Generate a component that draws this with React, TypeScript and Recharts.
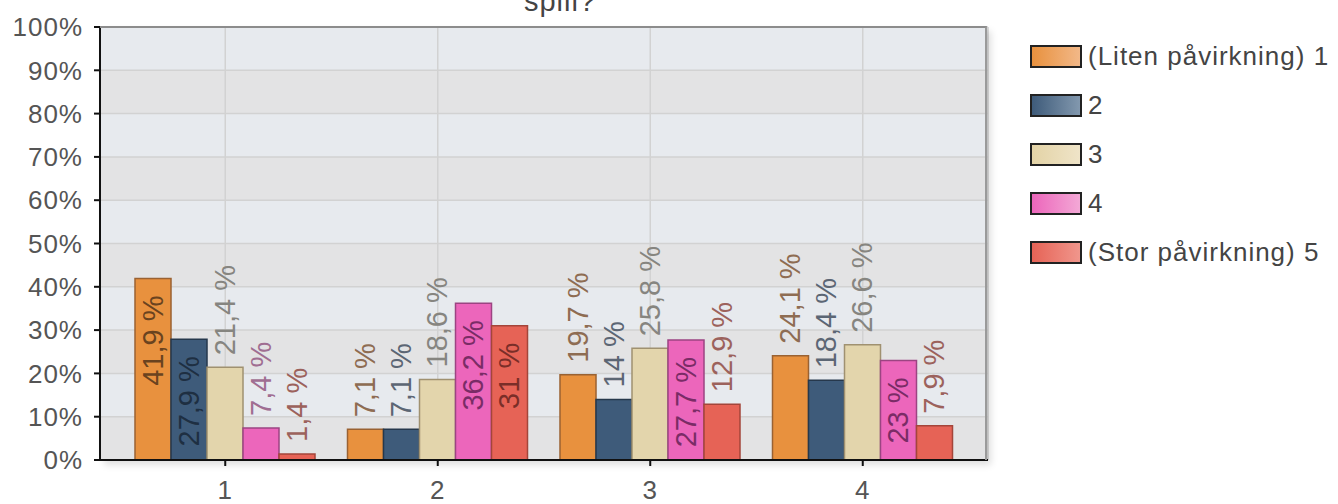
import { BarChart, Bar, XAxis, YAxis, CartesianGrid, LabelList } from "recharts";

const CATEGORIES = ["1", "2", "3", "4"];
const SERIES_NAMES = ["(Liten påvirkning) 1", "2", "3", "4", "(Stor påvirkning) 5"];
const LITEN_1 = [41.9, 7.1, 19.7, 24.1];
const VAL_2 = [27.9, 7.1, 14, 18.4];
const VAL_3 = [21.4, 18.6, 25.8, 26.6];
const VAL_4 = [7.4, 36.2, 27.7, 23];
const STOR_5 = [1.4, 31, 12.9, 7.9];
const Y_TICKS = [0, 10, 20, 30, 40, 50, 60, 70, 80, 90, 100];
const TITLE = "spill?";

const SERIES = [LITEN_1, VAL_2, VAL_3, VAL_4, STOR_5];

const FILLS = ["#e8913e", "#3e5b7a", "#e3d5ac", "#ec66bb", "#e66356"];
const STROKES = ["#9a6232", "#26384c", "#a09170", "#9c4482", "#a4453a"];
const LEGEND_FROM = ["#e8913e", "#3e5b7a", "#e3d3a6", "#ec66bb", "#e66356"];
const LEGEND_TO = ["#f2b888", "#8298ae", "#efe4c8", "#f3a8d6", "#f0968c"];
const LABEL_OUT = ["#8e6c52", "#5c6674", "#868580", "#a06e92", "#9c625c"];
const LABEL_IN = ["#6a431f", "#1e2f42", "#6a6048", "#7a2c66", "#7a2e28"];

// labels drawn inside the bar, "series-category"
const INSIDE = new Set(["0-0", "1-0", "3-1", "4-1", "3-2", "3-3"]);

const FONT = '"Liberation Sans", Arial, sans-serif';

const data = CATEGORIES.map((name, i) => {
  const row: any = { name };
  SERIES.forEach((s, si) => {
    row[`s${si}`] = s[i];
  });
  return row;
});

const fmt = (v: number) => `${String(v).replace(".", ",")} %`;

const makeLabel = (si: number) => (props: any) => {
  const x = Number(props.x);
  const y = Number(props.y);
  const width = Number(props.width);
  const inside = INSIDE.has(`${si}-${props.index}`);
  const cx = x + width / 2;
  const ty = inside ? y + 17 : y - 12;
  return (
    <text
      x={cx}
      y={ty}
      transform={`rotate(-90 ${cx} ${ty})`}
      textAnchor={inside ? "end" : "start"}
      dominantBaseline="central"
      fill={inside ? LABEL_IN[si] : LABEL_OUT[si]}
      fontSize={29}
      fontFamily={FONT}
    >
      {fmt(props.value)}
    </text>
  );
};

const tickStyle = { fontSize: 26, fill: "#555", fontFamily: FONT, letterSpacing: 1 };

export default function App() {
  return (
    <div style={{ position: "absolute", left: 0, top: 0, width: 1338, height: 504, background: "#fff", overflow: "hidden", fontFamily: FONT }}>
      <div style={{ position: "absolute", left: 460, width: 200, top: -13, textAlign: "center", fontSize: 29, lineHeight: "28px", color: "#444", letterSpacing: 1 }}>
        {TITLE}
      </div>
      <div style={{ position: "absolute", left: 0, top: 0 }}>
        <BarChart width={1338} height={504} data={data} margin={{ top: 27, right: 350, bottom: 0, left: 0 }} barGap={0} barCategoryGap={16}>
          <CartesianGrid stroke="#d2d2d2" strokeWidth={1.5} horizontalFill={["#e7eaee", "#e3e3e4"]} fillOpacity={1} />
          <XAxis
            dataKey="name"
            height={44}
            padding={{ left: 19, right: 19 }}
            tickSize={6}
            tickMargin={15}
            tick={tickStyle}
            axisLine={{ stroke: "#111", strokeWidth: 2 }}
            tickLine={{ stroke: "#111", strokeWidth: 2 }}
          />
          <YAxis
            width={100}
            domain={[0, 100]}
            ticks={Y_TICKS}
            interval={0}
            tickFormatter={(v) => `${v}%`}
            tickSize={6}
            tickMargin={11}
            tick={tickStyle}
            axisLine={{ stroke: "#111", strokeWidth: 2 }}
            tickLine={{ stroke: "#111", strokeWidth: 2 }}
          />
          {SERIES.map((_, si) => (
            <Bar
              key={si}
              dataKey={`s${si}`}
              name={SERIES_NAMES[si]}
              fill={FILLS[si]}
              stroke={STROKES[si]}
              strokeWidth={1.5}
              isAnimationActive={false}
            >
              <LabelList dataKey={`s${si}`} content={makeLabel(si)} />
            </Bar>
          ))}
        </BarChart>
      </div>
      <div
        style={{
          position: "absolute",
          left: 100,
          top: 26,
          width: 887,
          height: 434,
          borderTop: "2px solid #8c8c8c",
          borderRight: "2px solid #9a9a9a",
          boxShadow: "4px 5px 7px rgba(0,0,0,0.13)",
          boxSizing: "border-box",
          pointerEvents: "none",
        }}
      />
      {SERIES_NAMES.map((n, i) => (
        <div key={n} style={{ position: "absolute", left: 1030, top: 45 + i * 49, height: 23, display: "flex", alignItems: "center" }}>
          <div
            style={{
              width: 52,
              height: 23,
              boxSizing: "border-box",
              border: "2px solid #222",
              background: `linear-gradient(to right, ${LEGEND_FROM[i]}, ${LEGEND_TO[i]})`,
            }}
          />
          <span style={{ marginLeft: 6, fontSize: 26, color: "#444", letterSpacing: 1, whiteSpace: "nowrap" }}>{n}</span>
        </div>
      ))}
    </div>
  );
}
